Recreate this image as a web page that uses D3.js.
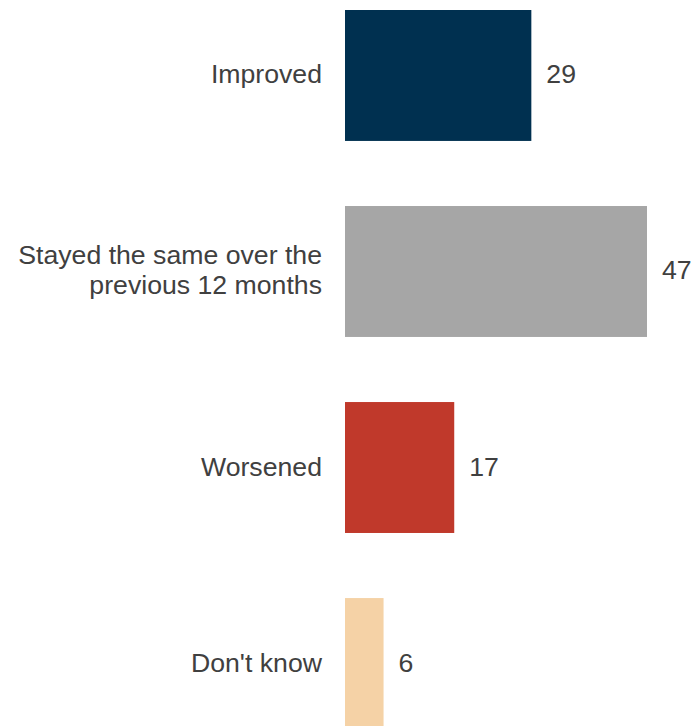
<!DOCTYPE html>
<html>
<head>
<meta charset="utf-8">
<script src="https://cdn.jsdelivr.net/npm/d3@7"></script>
<style>
  body { margin: 0; background: #fff; }
  text { font-family: "Liberation Sans", Arial, sans-serif; fill: #404040; }
</style>
</head>
<body>
<div id="chart"></div>
<script>
// Data
const categories = ['Improved', 'Stayed the same over the previous 12 months', 'Worsened', "Don't know"];
const labelLines = [['Improved'], ['Stayed the same over the', 'previous 12 months'], ['Worsened'], ["Don't know"]];
const values = [29, 47, 17, 6];
const barColors = ['#003050', '#a6a6a6', '#c0392b', '#f5d2a6'];

const width = 700, height = 726;
const x0 = 345;

const svg = d3.select('#chart')
    .append('svg')
    .attr('width', width)
    .attr('height', height);

// Scales
const xScale = d3.scaleLinear()
    .domain([0, 47])
    .range([x0, x0 + 302]);

const yScale = d3.scaleBand()
    .domain(categories)
    .range([10, 729])
    .paddingInner(0.332)
    .paddingOuter(0);

// Bars
svg.selectAll('.bar')
    .data(categories)
    .enter()
    .append('rect')
    .attr('class', 'bar')
    .attr('x', xScale(0))
    .attr('y', d => yScale(d))
    .attr('width', (d, i) => xScale(values[i]) - xScale(0))
    .attr('height', yScale.bandwidth())
    .attr('fill', (d, i) => barColors[i]);

// Category labels
const lineH = 30;
const catLabels = svg.selectAll('.cat-label')
    .data(categories)
    .enter()
    .append('text')
    .attr('class', 'cat-label')
    .attr('text-anchor', 'end')
    .style('font-size', '26.67px');

catLabels.each(function(d, i) {
    const lines = labelLines[i];
    const cy = yScale(d) + yScale.bandwidth() / 2;
    const startY = cy - (lines.length - 1) * lineH / 2;
    d3.select(this).selectAll('tspan')
        .data(lines)
        .enter()
        .append('tspan')
        .attr('x', 322)
        .attr('y', (l, j) => startY + j * lineH)
        .attr('dy', '0.3em')
        .text(l => l);
});

// Value labels
svg.selectAll('.val-label')
    .data(categories)
    .enter()
    .append('text')
    .attr('class', 'val-label')
    .attr('x', (d, i) => xScale(values[i]) + 15)
    .attr('y', d => yScale(d) + yScale.bandwidth() / 2)
    .attr('dy', '0.3em')
    .style('font-size', '26.67px')
    .text((d, i) => values[i]);
</script>
</body>
</html>
